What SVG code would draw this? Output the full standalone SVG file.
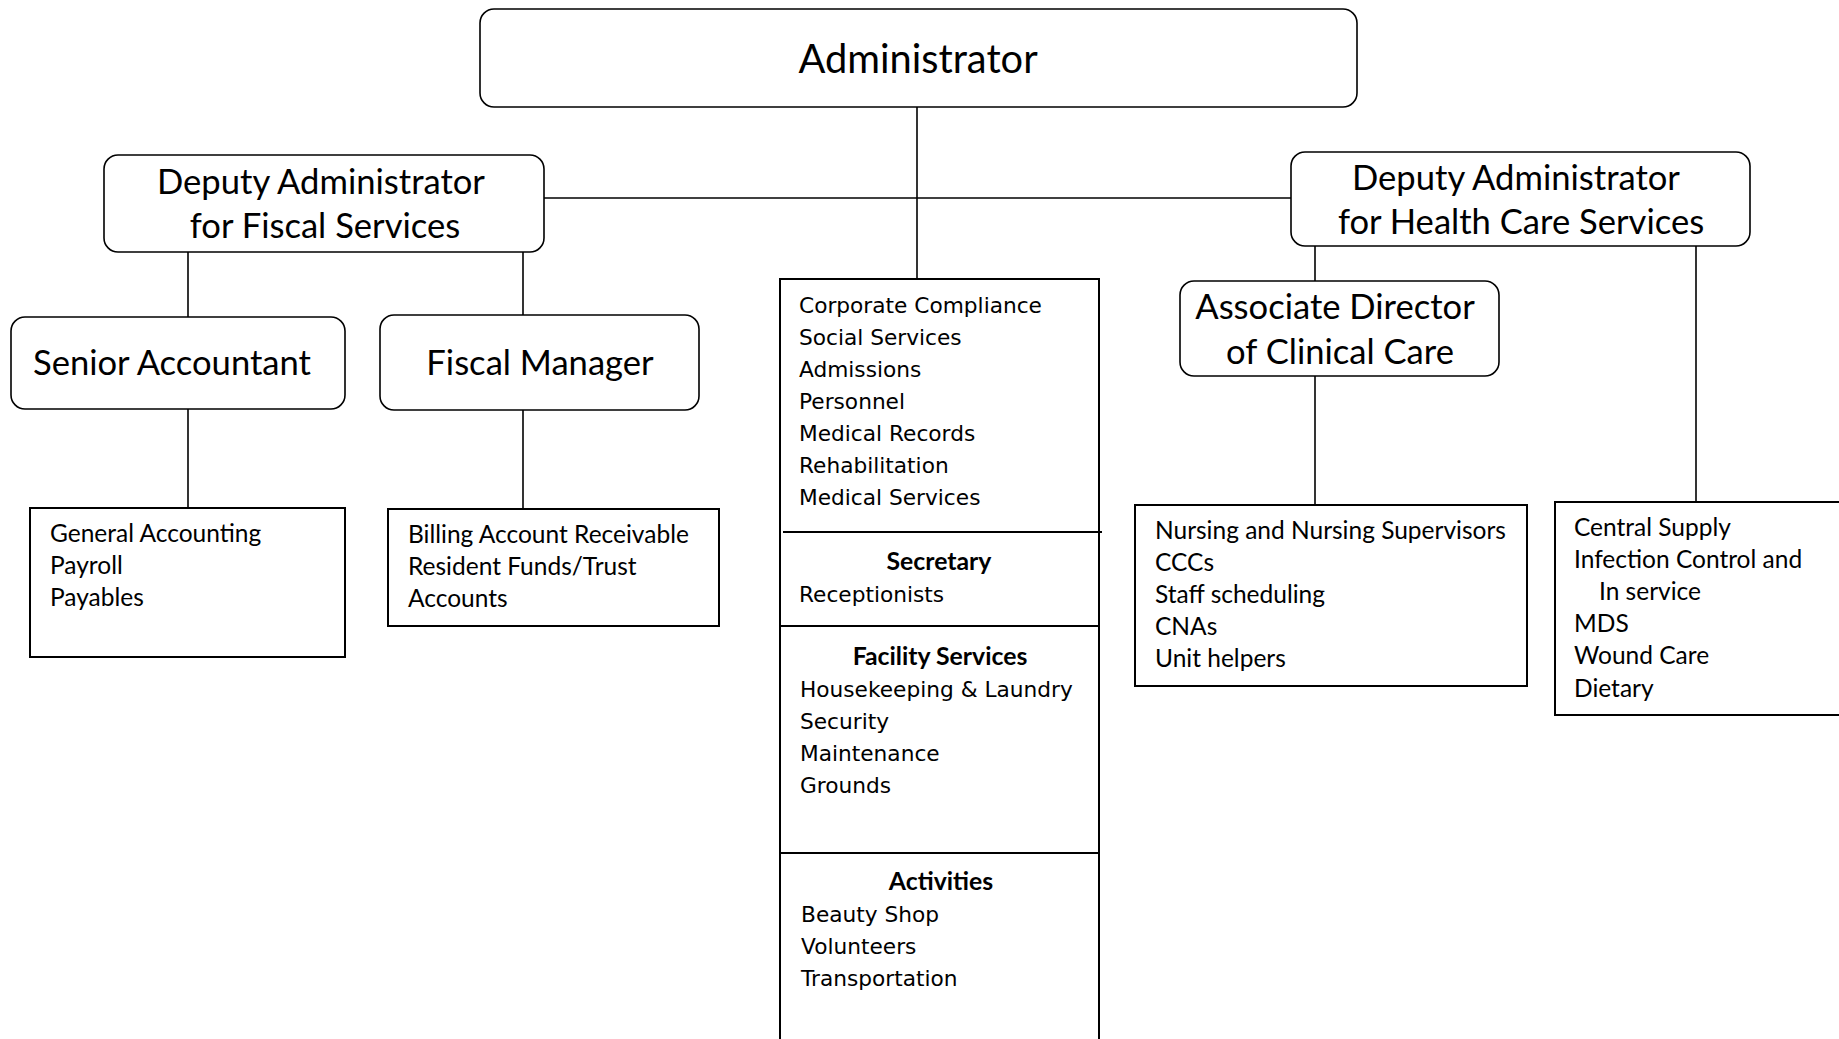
<svg xmlns="http://www.w3.org/2000/svg" width="1839" height="1039" viewBox="0 0 1839 1039">
<style>
.bg{fill:#fff}
.rr{fill:#fff;stroke:#000;stroke-width:1.6}
.bx{fill:#fff;stroke:#000;stroke-width:2}
.ln{stroke:#000;stroke-width:1.6;fill:none}
.tt{font-family:Lato,"Liberation Sans",sans-serif;font-size:34.6px;text-anchor:middle;fill:#000}
.lt{font-family:Lato,"Liberation Sans",sans-serif;font-size:24.5px;fill:#000}
.ct{font-family:"DejaVu Sans","Liberation Sans",sans-serif;font-size:21.7px;fill:#000}
.hd{font-family:Lato,"Liberation Sans",sans-serif;font-size:24.8px;font-weight:bold;text-anchor:middle;fill:#000}
</style>
<rect class="bg" x="0" y="0" width="1839" height="1039"/>
<g id="connectors">
<line class="ln" x1="917" y1="107" x2="917" y2="279"/>
<line class="ln" x1="544" y1="198" x2="1291" y2="198"/>
<line class="ln" x1="188" y1="252" x2="188" y2="317"/>
<line class="ln" x1="523" y1="252" x2="523" y2="315"/>
<line class="ln" x1="188" y1="409" x2="188" y2="508"/>
<line class="ln" x1="523" y1="410" x2="523" y2="509"/>
<line class="ln" x1="1315" y1="246" x2="1315" y2="281"/>
<line class="ln" x1="1315" y1="376" x2="1315" y2="505"/>
<line class="ln" x1="1696" y1="246" x2="1696" y2="502"/>
</g>
<g id="administrator">
<rect class="rr" x="480" y="9" width="877" height="98" rx="14"/>
<text class="tt" x="918" y="73" style="font-size:39.8px">Administrator</text>
</g>
<g id="deputy-fiscal">
<rect class="rr" x="104" y="155" width="440" height="97" rx="14"/>
<text class="tt" x="321" y="194">Deputy Administrator</text>
<text class="tt" x="325" y="238">for Fiscal Services</text>
</g>
<g id="deputy-health">
<rect class="rr" x="1291" y="152" width="459" height="94" rx="14"/>
<text class="tt" x="1516" y="190">Deputy Administrator</text>
<text class="tt" x="1521" y="234">for Health Care Services</text>
</g>
<g id="senior-accountant">
<rect class="rr" x="11" y="317" width="334" height="92" rx="14"/>
<text class="tt" x="172" y="375">Senior Accountant</text>
</g>
<g id="fiscal-manager">
<rect class="rr" x="380" y="315" width="319" height="95" rx="14"/>
<text class="tt" x="540" y="375">Fiscal Manager</text>
</g>
<g id="associate-director">
<rect class="rr" x="1180" y="281" width="319" height="95" rx="14"/>
<text class="tt" x="1335" y="319">Associate Director</text>
<text class="tt" x="1340" y="364">of Clinical Care</text>
</g>
<g id="general-accounting">
<rect class="bx" x="30" y="508" width="315" height="149"/>
<text class="lt" x="50" y="542">General Accounting</text>
<text class="lt" x="50" y="574">Payroll</text>
<text class="lt" x="50" y="606">Payables</text>
</g>
<g id="billing">
<rect class="bx" x="388" y="509" width="331" height="117"/>
<text class="lt" x="408" y="543">Billing Account Receivable</text>
<text class="lt" x="408" y="575">Resident Funds/Trust</text>
<text class="lt" x="408" y="607">Accounts</text>
</g>
<g id="central-box">
<rect class="bx" x="780" y="279" width="319" height="780"/>
<line class="ln" x1="783" y1="532" x2="1102" y2="532" style="stroke-width:2"/>
<line class="ln" x1="780" y1="626" x2="1099" y2="626" style="stroke-width:2"/>
<line class="ln" x1="780" y1="853" x2="1099" y2="853" style="stroke-width:2"/>
<text class="ct" x="799" y="313">Corporate Compliance</text>
<text class="ct" x="799" y="345">Social Services</text>
<text class="ct" x="799" y="377">Admissions</text>
<text class="ct" x="799" y="409">Personnel</text>
<text class="ct" x="799" y="441">Medical Records</text>
<text class="ct" x="799" y="473">Rehabilitation</text>
<text class="ct" x="799" y="505">Medical Services</text>
<text class="hd" x="939" y="570">Secretary</text>
<text class="ct" x="799" y="602">Receptionists</text>
<text class="hd" x="940" y="665">Facility Services</text>
<text class="ct" x="800" y="697">Housekeeping &amp; Laundry</text>
<text class="ct" x="800" y="729">Security</text>
<text class="ct" x="800" y="761">Maintenance</text>
<text class="ct" x="800" y="793">Grounds</text>
<text class="hd" x="941" y="890">Activities</text>
<text class="ct" x="801" y="922">Beauty Shop</text>
<text class="ct" x="801" y="954">Volunteers</text>
<text class="ct" x="801" y="986">Transportation</text>
</g>
<g id="nursing">
<rect class="bx" x="1135" y="505" width="392" height="181"/>
<text class="lt" x="1155" y="539">Nursing and Nursing Supervisors</text>
<text class="lt" x="1155" y="571">CCCs</text>
<text class="lt" x="1155" y="603">Staff scheduling</text>
<text class="lt" x="1155" y="635">CNAs</text>
<text class="lt" x="1155" y="667">Unit helpers</text>
</g>
<g id="central-supply">
<rect class="bx" x="1555" y="502" width="300" height="213"/>
<text class="lt" x="1574" y="536">Central Supply</text>
<text class="lt" x="1574" y="568">Infection Control and</text>
<text class="lt" x="1599" y="600">In service</text>
<text class="lt" x="1574" y="632">MDS</text>
<text class="lt" x="1574" y="664">Wound Care</text>
<text class="lt" x="1574" y="697">Dietary</text>
</g>
</svg>
